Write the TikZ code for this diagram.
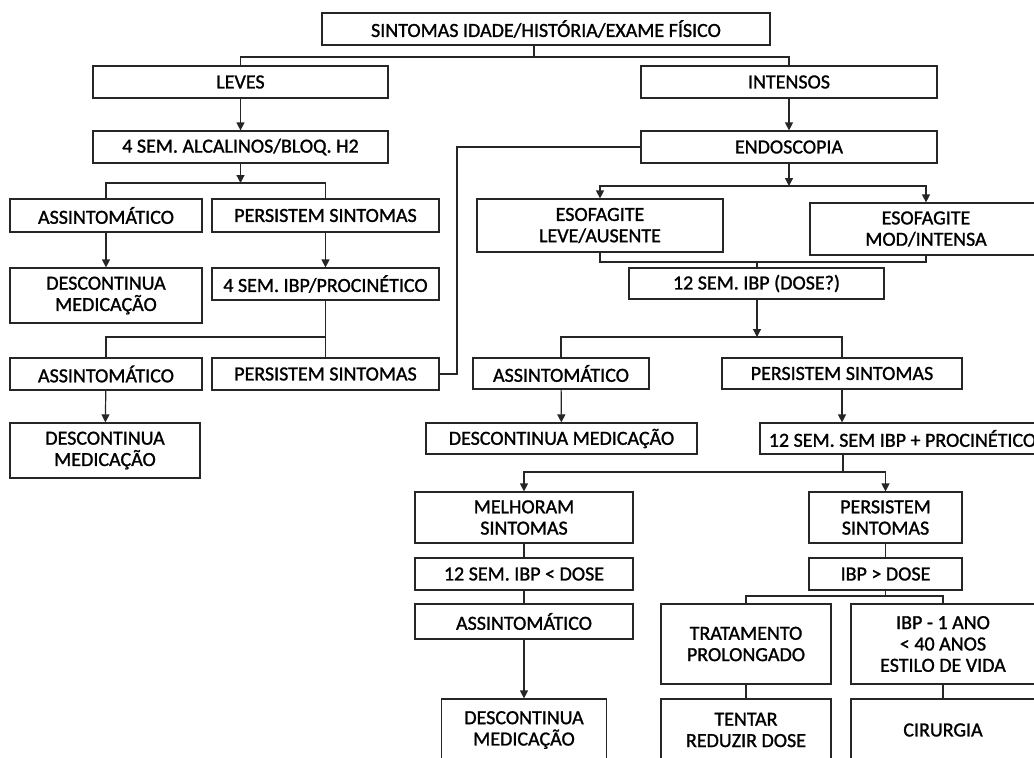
\documentclass[tikz,border=0pt]{standalone}
\usepackage{fontspec}
\setmainfont{Carlito}[FakeBold=1.2]
\usetikzlibrary{arrows.meta,calc}

\begin{document}
\begin{tikzpicture}[
  x=0.75pt, y=-0.75pt,
  box/.style={draw=black!85, line width=0.9pt, fill=white, align=center, inner sep=1pt, font=\fontsize{15}{16}\selectfont, text=black},
  wh/.style 2 args={minimum width=#1*0.75pt, minimum height=#2*0.75pt},
  link/.style={draw=black!85, line width=0.9pt},
  arrow/.style={link, -{Triangle[length=6pt,width=6pt]}}
]
  \useasboundingbox (0,0) rectangle (1034,757);
  \clip (0,0) rectangle (1034,757);
  \fill[white] (0,0) rectangle (1034,757);

  \node[box, wh={448}{32}] (sintomas) at (546,29) {SINTOMAS IDADE/HISTÓRIA/EXAME FÍSICO};
  \node[box, wh={295}{32}] (leves) at (240.5,82) {LEVES};
  \node[box, wh={296}{32}] (intensos) at (789,82) {INTENSOS};
  \node[box, wh={295}{32}] (alcalinos) at (240.5,147) {4 SEM. ALCALINOS/BLOQ. H2};
  \node[box, wh={296}{32}] (endoscopia) at (789,147) {ENDOSCOPIA};

  \node[box, wh={192}{33}] (assint1) at (106,215.5) {ASSINTOMÁTICO};
  \node[box, wh={227}{33}] (persist1) at (325.5,215.5) {PERSISTEM SINTOMAS};
  \node[box, wh={192}{55}] (descont1) at (106,295.5) {DESCONTINUA\\MEDICAÇÃO};
  \node[box, wh={227}{32}] (procin1) at (325.5,284) {4 SEM. IBP/PROCINÉTICO};
  \node[box, wh={192}{32}] (assint2) at (106,374) {ASSINTOMÁTICO};
  \node[box, wh={227}{32}] (persist2) at (325.5,374) {PERSISTEM SINTOMAS};
  \node[box, wh={190}{55}] (descont2) at (105,450.5) {DESCONTINUA\\MEDICAÇÃO};

  \node[box, wh={246}{53}] (esofleve) at (600,225.5) {ESOFAGITE\\LEVE/AUSENTE};
  \node[box, wh={232}{52}] (esofmod) at (926,229) {ESOFAGITE\\MOD/INTENSA};
  \node[box, wh={255}{31}] (ibpdose) at (756.5,283.5) {12 SEM. IBP (DOSE?)};
  \node[box, wh={176}{31}] (assint3) at (561,373.5) {ASSINTOMÁTICO};
  \node[box, wh={240}{31}] (persist3) at (842,373.5) {PERSISTEM SINTOMAS};
  \node[box, wh={271}{31}] (descont3) at (561.5,438.5) {DESCONTINUA MEDICAÇÃO};
  \node[box, wh={285}{31}] (procin2) at (902.5,438.5) {12 SEM. SEM IBP + PROCINÉTICO};
  \node[box, wh={218}{51}] (melhoram) at (524,517.5) {MELHORAM\\SINTOMAS};
  \node[box, wh={218}{32}] (ibpmenor) at (524,574) {12 SEM. IBP < DOSE};
  \node[box, wh={218}{35}] (assint4) at (524,621.5) {ASSINTOMÁTICO};
  \node[box, wh={165}{62}] (descont4) at (524,730) {DESCONTINUA\\MEDICAÇÃO};
  \node[box, wh={153}{51}] (persist4) at (885.5,517.5) {PERSISTEM\\SINTOMAS};
  \node[box, wh={153}{32}] (ibpmaior) at (885.5,574) {IBP > DOSE};
  \node[box, wh={170}{80}] (tratamento) at (746,644) {TRATAMENTO\\PROLONGADO};
  \node[box, wh={184}{80}] (ibpano) at (943,644) {IBP - 1 ANO\\< 40 ANOS\\ESTILO DE VIDA};
  \node[box, wh={170}{62}] (reduzir) at (746,730) {TENTAR\\REDUZIR DOSE};
  \node[box, wh={184}{62}] (cirurgia) at (943,730) {CIRURGIA};

  \coordinate (j0) at (534,57);
  \coordinate (j1) at (240.5,183);
  \coordinate (j2) at (325.5,337);
  \coordinate (k1) at (457,374);
  \coordinate (j3) at (789,186);
  \coordinate (j4) at (757,262);
  \coordinate (j5) at (757,337);
  \coordinate (j6) at (843,472);
  \coordinate (j7) at (885.5,596);

  \draw[link] ($(sintomas.south)+(-12,0)$) -- (j0);
  \draw[link] (leves.north) |- (j0) -| (intensos.north);
  \draw[arrow] (leves) -- (alcalinos);
  \draw[arrow] (alcalinos) -- (j1);
  \draw[link] (assint1.north) |- (j1) -| (persist1.north);
  \draw[arrow] (assint1) -- (descont1);
  \draw[arrow] (persist1) -- (procin1);
  \draw[link] (procin1) -- (persist2);
  \draw[link] (j2) -| (assint2.north);
  \draw[arrow] (assint2) -- (descont2);
  \draw[link] (persist2.east) -- (k1) |- (endoscopia.west);

  \draw[arrow] (intensos) -- (endoscopia);
  \draw[arrow] (endoscopia) -- (j3);
  \draw[arrow] (j3) -| (esofleve.north);
  \draw[arrow] (j3) -| (esofmod.north);
  \draw[link] (esofleve.south) |- (j4) -| (esofmod.south);
  \draw[link] (j4) -- (ibpdose.north -| j4);
  \draw[arrow] (ibpdose.south -| j5) -- (j5);
  \draw[link] (assint3.north) |- (j5) -| (persist3.north);
  \draw[arrow] (assint3) -- (descont3);
  \draw[arrow] (persist3.south) -- (persist3.south |- procin2.north);
  \draw[link] (j6 |- procin2.south) -- (j6);
  \draw[arrow] (j6) -| (melhoram.north);
  \draw[arrow] (j6) -| (persist4.north);
  \draw[link] (melhoram) -- (ibpmenor);
  \draw[link] (ibpmenor) -- (assint4);
  \draw[arrow] (assint4) -- (descont4);
  \draw[link] (persist4) -- (ibpmaior);
  \draw[link] (ibpmaior) -- (j7);
  \draw[link] (tratamento.north) |- (j7) -| (ibpano.north);
  \draw[link] (tratamento) -- (reduzir);
  \draw[link] (ibpano) -- (cirurgia);
\end{tikzpicture}
\end{document}
